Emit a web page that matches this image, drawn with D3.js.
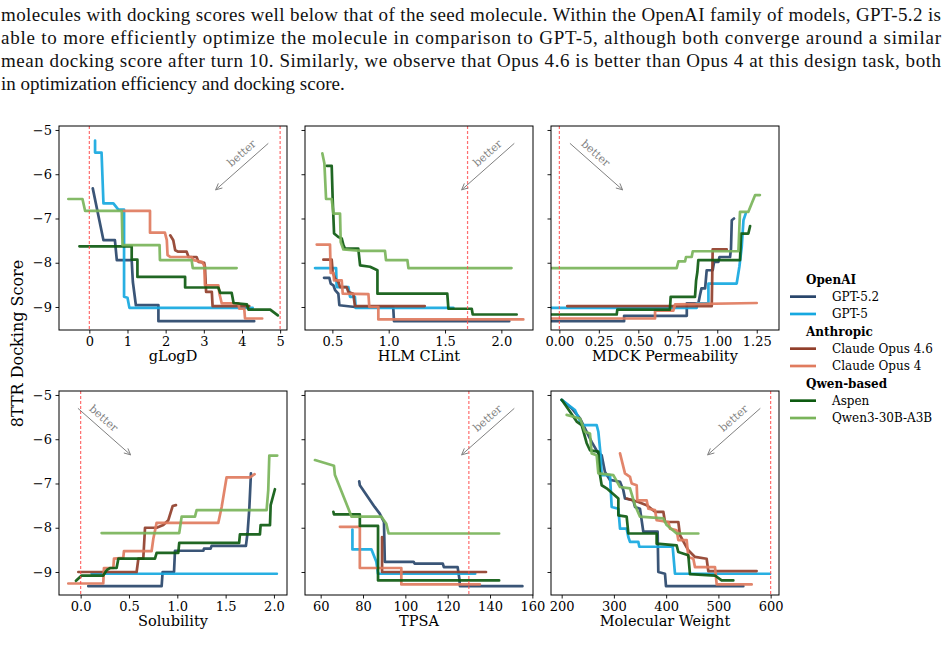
<!DOCTYPE html>
<html>
<head>
<meta charset="utf-8">
<script src="https://cdn.jsdelivr.net/npm/d3@7"></script>
<style>
  body { margin: 0; background: #fff; }
  svg { display: block; font-family: "DejaVu Serif", serif; }
</style>
</head>
<body>
<svg id="chart" width="949" height="646"></svg>
<script>
// ---- text above the figure ----
var paragraph = [
  "molecules with docking scores well below that of the seed molecule. Within the OpenAI family of models, GPT-5.2 is",
  "able to more efficiently optimize the molecule in comparison to GPT-5, although both converge around a similar",
  "mean docking score after turn 10. Similarly, we observe that Opus 4.6 is better than Opus 4 at this design task, both",
  "in optimization efficiency and docking score."
];

// ---- legend ----
var models = ["GPT-5.2", "GPT-5", "Claude Opus 4.6", "Claude Opus 4", "Aspen", "Qwen3-30B-A3B"];
var groupTitles = ["OpenAI", "Anthropic", "Qwen-based"];
var groupOf = [0, 0, 1, 1, 2, 2];
var colors = ["#29466b", "#16a8e0", "#913f2b", "#e07b5e", "#0d5a10", "#79b45a"];

// ---- axes ----
var yLabel = "8TTR Docking Score";
var yTicks = [-5, -6, -7, -8, -9];
var yLimits = [-9.52, -4.91];
var propNames = ["gLogD", "HLM CLint", "MDCK Permeability", "Solubility", "TPSA", "Molecular Weight"];
var xTicks = [[0, 1, 2, 3, 4, 5], [0.5, 1.0, 1.5, 2.0], [0, 0.25, 0.5, 0.75, 1.0, 1.25],
              [0, 0.5, 1.0, 1.5, 2.0], [60, 80, 100, 120, 140, 160], [200, 300, 400, 500, 600]];
var xTickFormats = ["d", ".1f", ".2f", ".1f", "d", "d"];
var xLimits = [[-0.795, 5.18], [0.257, 2.281], [-0.053, 1.391], [-0.224, 2.135], [52.6, 160.3], [179.6, 616]];
var thresholds = [[0, 5], [1.7], [0], [0], [130], [600]];
var betterDir = ["left", "left", "right", "right", "left", "left"];

// ---- series: [property, docking score] ----
var gLogD = {
  "GPT-5.2": [[0.09,-6.32],[0.37,-7.49],[0.67,-7.49],[0.72,-7.94],[1.11,-7.94],[1.14,-8.43],[1.22,-8.96],[1.81,-8.96],[1.81,-9.32],[4.32,-9.32]],
  "GPT-5": [[0.15,-5.24],[0.15,-5.51],[0.32,-5.51],[0.37,-6.66],[0.63,-6.66],[0.76,-6.80],[0.91,-6.80],[0.91,-8.77],[1.0,-8.79],[1.05,-9.02],[4.28,-9.02]],
  "Claude Opus 4.6": [[2.12,-7.38],[2.20,-7.49],[2.25,-7.72],[2.33,-7.75],[2.55,-7.75],[2.60,-7.87],[2.81,-7.87],[2.86,-7.98],[3.01,-8.0],[3.03,-8.09],[3.06,-8.66],[3.21,-8.66],[3.23,-8.98],[4.19,-8.98]],
  "Claude Opus 4": [[0.89,-6.83],[1.59,-6.83],[1.59,-7.32],[1.98,-7.32],[2.03,-7.49],[2.05,-7.83],[2.12,-7.87],[2.68,-7.87],[2.73,-7.94],[2.95,-7.98],[3.01,-8.06],[3.03,-8.51],[3.38,-8.51],[3.41,-8.70],[3.47,-8.92],[3.91,-8.92],[3.93,-9.04],[4.06,-9.04],[4.08,-9.26],[4.53,-9.26]],
  "Aspen": [[-0.26,-7.63],[1.11,-7.63],[1.11,-7.93],[1.26,-7.93],[1.26,-8.32],[2.51,-8.32],[2.51,-8.56],[3.38,-8.56],[3.43,-8.68],[3.73,-8.68],[3.78,-8.91],[4.13,-8.94],[4.17,-9.06],[4.74,-9.06],[4.94,-9.19]],
  "Qwen3-30B-A3B": [[-0.55,-6.56],[-0.18,-6.56],[-0.11,-6.83],[0.85,-6.83],[0.87,-7.60],[1.84,-7.60],[1.85,-7.94],[2.68,-7.94],[2.71,-8.12],[3.86,-8.12]]
};
var hlmClint = {
  "GPT-5.2": [[0.426,-8.34],[0.473,-8.34],[0.485,-8.47],[0.509,-8.51],[0.524,-8.62],[0.553,-8.70],[0.562,-8.96],[0.70,-9.0],[1.04,-9.0],[1.047,-9.32],[2.07,-9.32]],
  "GPT-5": [[0.346,-8.12],[0.533,-8.12],[0.538,-8.55],[0.642,-8.55],[0.657,-8.77],[0.70,-8.77],[0.707,-9.02],[1.574,-9.02]],
  "Claude Opus 4.6": [[0.42,-7.93],[0.494,-7.93],[0.503,-8.21],[0.524,-8.36],[0.553,-8.43],[0.568,-8.55],[0.627,-8.55],[0.642,-8.66],[0.686,-8.70],[0.70,-8.98],[1.32,-8.98]],
  "Claude Opus 4": [[0.361,-7.59],[0.479,-7.59],[0.485,-8.23],[0.509,-8.23],[0.515,-8.40],[0.583,-8.40],[0.592,-8.70],[0.82,-8.71],[0.828,-9.0],[0.908,-9.0],[0.908,-9.28],[2.195,-9.28]],
  "Aspen": [[0.45,-5.81],[0.494,-5.81],[0.503,-6.58],[0.515,-7.34],[0.553,-7.42],[0.583,-7.45],[0.598,-7.60],[0.612,-7.68],[0.73,-7.68],[0.746,-8.06],[0.834,-8.09],[0.90,-8.17],[0.90,-8.70],[1.52,-8.70],[1.53,-9.04],[1.737,-9.04],[1.746,-9.17],[2.136,-9.17]],
  "Qwen3-30B-A3B": [[0.411,-5.53],[0.429,-5.75],[0.444,-6.56],[0.494,-6.56],[0.509,-6.89],[0.568,-6.89],[0.574,-7.53],[0.598,-7.70],[0.76,-7.73],[0.967,-7.73],[0.976,-7.94],[1.166,-7.94],[1.175,-8.12],[2.09,-8.12]]
};
var mdck = {
  "GPT-5.2": [[-0.049,-9.32],[0.41,-9.32],[0.41,-9.20],[0.807,-9.20],[0.807,-8.92],[0.88,-8.92],[0.89,-8.74],[0.90,-8.58],[0.923,-8.58],[0.933,-8.17],[0.971,-8.17],[0.98,-7.98],[1.007,-7.98],[1.014,-7.87],[1.081,-7.87],[1.087,-7.68],[1.092,-7.04],[1.106,-7.0]],
  "GPT-5": [[-0.049,-9.02],[0.87,-9.02],[0.87,-8.92],[0.944,-8.92],[0.944,-8.47],[1.123,-8.47],[1.14,-8.09],[1.155,-7.64],[1.166,-7.04],[1.18,-6.89]],
  "Claude Opus 4.6": [[0.05,-8.98],[0.965,-8.98],[0.971,-7.70],[1.06,-7.70]],
  "Claude Opus 4": [[-0.049,-9.26],[0.606,-9.26],[0.606,-9.08],[0.722,-9.08],[0.733,-8.94],[1.25,-8.91]],
  "Aspen": [[-0.049,-9.17],[0.363,-9.17],[0.367,-9.06],[0.70,-9.06],[0.705,-8.77],[0.859,-8.77],[0.866,-8.40],[0.874,-8.21],[0.88,-7.94],[1.144,-7.94],[1.151,-7.34],[1.197,-7.34],[1.208,-7.17]],
  "Qwen3-30B-A3B": [[-0.049,-8.12],[0.743,-8.12],[0.754,-7.97],[0.796,-7.97],[0.802,-7.87],[0.838,-7.87],[0.845,-7.74],[1.134,-7.74],[1.144,-6.85],[1.197,-6.85],[1.218,-6.66],[1.24,-6.47],[1.27,-6.47]]
};
var solubility = {
  "GPT-5.2": [[0.079,-9.32],[0.838,-9.32],[0.848,-9.0],[0.966,-9.0],[0.976,-8.52],[1.27,-8.52],[1.276,-8.47],[1.345,-8.47],[1.355,-8.41],[1.71,-8.41],[1.728,-8.09],[1.745,-7.57],[1.762,-6.77]],
  "GPT-5": [[0.114,-9.04],[2.03,-9.04]],
  "Claude Opus 4.6": [[-0.024,-9.0],[0.579,-9.0],[0.597,-8.70],[0.648,-8.70],[0.666,-8.0],[0.786,-8.0],[0.855,-7.94],[0.907,-7.83],[0.952,-7.51],[0.986,-7.49]],
  "Claude Opus 4": [[-0.128,-9.26],[0.234,-9.26],[0.241,-8.91],[0.338,-8.91],[0.345,-8.70],[0.441,-8.68],[0.448,-8.53],[0.734,-8.53],[0.752,-8.25],[0.786,-7.89],[1.424,-7.89],[1.459,-7.53],[1.51,-6.86],[1.752,-6.86],[1.80,-6.79]],
  "Aspen": [[-0.048,-9.2],[0.01,-9.08],[0.234,-9.08],[0.269,-8.96],[0.303,-8.91],[0.372,-8.91],[0.39,-8.70],[0.769,-8.70],[0.786,-8.57],[1.01,-8.57],[1.02,-8.34],[1.64,-8.34],[1.648,-8.15],[1.855,-8.15],[1.862,-7.94],[1.959,-7.94],[1.966,-7.49],[2.01,-7.13]],
  "Qwen3-30B-A3B": [[0.217,-8.12],[1.02,-8.12],[1.045,-7.75],[1.183,-7.75],[1.20,-7.60],[1.924,-7.60],[1.941,-7.15],[1.952,-6.37],[2.034,-6.37]]
};
var tpsa = {
  "GPT-5.2": [[78.2,-6.95],[78.5,-7.04],[85.5,-7.53],[87.9,-7.68],[89.9,-7.87],[90.3,-8.77],[103.9,-8.77],[104.4,-8.81],[117.7,-8.81],[118.2,-8.89],[124.7,-8.89],[125.5,-9.15],[125.8,-9.32],[155.3,-9.32]],
  "GPT-5": [[75.0,-8.04],[75.0,-8.49],[84.0,-8.49],[86.3,-8.77],[87.1,-9.04],[133.0,-9.04]],
  "Claude Opus 4.6": [[89.0,-8.21],[89.0,-9.0],[138.1,-9.0]],
  "Claude Opus 4": [[69.1,-7.98],[78.5,-7.98],[78.5,-8.91],[98.1,-8.91],[98.1,-9.28],[135.2,-9.28]],
  "Aspen": [[66.0,-7.64],[66.3,-7.70],[78.5,-7.70],[78.5,-7.96],[87.1,-7.96],[87.1,-9.19],[144.3,-9.19]],
  "Qwen3-30B-A3B": [[57.3,-6.47],[66.3,-6.60],[66.7,-6.80],[74.6,-7.75],[88.7,-7.75],[91.0,-7.91],[92.1,-8.13],[144.3,-8.13]]
};
var molWeight = {
  "GPT-5.2": [[200,-5.11],[219.1,-5.30],[235.1,-5.53],[257.4,-6.06],[270.2,-6.32],[276.6,-6.36],[282.9,-6.74],[292.5,-6.92],[311.7,-6.96],[318.0,-7.15],[321.2,-7.34],[337.2,-7.38],[340.4,-7.53],[349.9,-7.57],[353.1,-7.83],[356.3,-8.09],[383.7,-8.09],[385.0,-9.0],[397.8,-9.04],[399.7,-9.32],[547.7,-9.32]],
  "GPT-5": [[200,-5.11],[225.5,-5.34],[238.3,-5.68],[267.0,-5.68],[270.2,-5.83],[274.6,-6.36],[276.6,-6.81],[292.5,-6.81],[295.7,-7.53],[308.5,-7.57],[311.7,-8.02],[324.4,-8.02],[327.6,-8.21],[330.8,-8.32],[346.7,-8.32],[348.7,-8.43],[412.5,-8.43],[416.9,-9.04],[598.8,-9.04]],
  "Claude Opus 4.6": [[324.4,-7.34],[346.7,-7.42],[362.7,-7.49],[378.6,-7.64],[394.6,-7.64],[397.8,-7.87],[423.3,-7.87],[426.5,-8.17],[442.4,-8.51],[455.2,-8.66],[477.5,-8.70],[480.7,-8.98],[573.2,-8.98]],
  "Claude Opus 4": [[311.7,-6.32],[321.2,-6.77],[330.8,-6.85],[334.0,-7.0],[343.6,-7.04],[344.8,-7.38],[362.7,-7.38],[365.9,-7.57],[378.6,-7.60],[381.8,-7.83],[404.2,-7.87],[407.4,-8.02],[420.1,-8.06],[423.3,-8.28],[439.3,-8.28],[442.4,-8.66],[452.0,-8.70],[455.2,-8.89],[493.5,-8.89],[496.7,-9.28],[563.7,-9.28]],
  "Aspen": [[200,-5.11],[216.0,-5.38],[228.7,-5.60],[238.3,-5.68],[247.9,-6.09],[254.2,-6.25],[270.2,-6.28],[273.4,-6.81],[276.6,-7.04],[286.1,-7.11],[308.5,-7.34],[308.5,-7.72],[324.4,-7.75],[327.6,-8.13],[381.8,-8.13],[381.8,-8.36],[420.1,-8.40],[423.3,-8.55],[442.4,-8.62],[445.6,-9.05],[493.5,-9.08],[506.2,-9.19],[528.6,-9.19]],
  "Qwen3-30B-A3B": [[209.6,-5.45],[235.1,-5.53],[244.7,-5.83],[254.2,-5.87],[257.4,-6.32],[267.0,-6.36],[270.2,-6.77],[298.9,-6.81],[311.7,-7.08],[330.8,-7.11],[340.4,-7.49],[349.9,-7.75],[394.6,-7.79],[401.0,-7.94],[420.1,-8.13],[461.6,-8.13]]
};
var panelData = [gLogD, hlmClint, mdck, solubility, tpsa, molWeight];

// ---- layout ----
var colLeft = [59, 305, 551], rowTop = [126, 391];
var pw = 228, ph = 204;

var svg = d3.select("#chart");

// paragraph
svg.append("g").selectAll("text")
  .data(paragraph)
  .join("text")
    .attr("x", 1)
    .attr("y", function(d, i) { return 20.5 + i * 23; })
    .attr("textLength", function(d, i) { return i < 3 ? 940 : null; })
    .attr("lengthAdjust", "spacing")
    .style("font-family", "'Liberation Serif', serif")
    .style("font-size", "19px")
    .attr("fill", "#111")
    .text(function(d) { return d; });

var defs = svg.append("defs");

panelData.forEach(function(data, p) {
  var left = colLeft[p % 3], top = rowTop[Math.floor(p / 3)];
  var g = svg.append("g").attr("transform", "translate(" + left + "," + top + ")");

  var x = d3.scaleLinear().domain(xLimits[p]).range([0, pw]);
  var y = d3.scaleLinear().domain(yLimits).range([ph, 0]);

  defs.append("clipPath").attr("id", "clip" + p)
    .append("rect").attr("width", pw).attr("height", ph);

  // x axis
  var xa = g.append("g")
    .attr("transform", "translate(0," + ph + ")")
    .call(d3.axisBottom(x).tickValues(xTicks[p]).tickFormat(d3.format(xTickFormats[p])).tickSize(3.5).tickPadding(3.5));
  // y axis (labels only on first column)
  var ya = g.append("g")
    .call(d3.axisLeft(y).tickValues(yTicks).tickFormat(p % 3 === 0 ? d3.format("d") : "").tickSize(3.5).tickPadding(3.5));
  [xa, ya].forEach(function(a) {
    a.select(".domain").remove();
    a.selectAll("text").style("font-family", "'DejaVu Serif', serif").style("font-size", "13px").attr("fill", "#000");
    a.selectAll("line").attr("stroke", "#000").attr("stroke-width", 0.9);
  });

  // series
  var line = d3.line().x(function(d) { return x(d[0]); }).y(function(d) { return y(d[1]); });
  g.append("g").attr("clip-path", "url(#clip" + p + ")")
    .selectAll("path")
    .data(models)
    .join("path")
      .attr("d", function(m) { return line(data[m]); })
      .attr("fill", "none")
      .attr("stroke", function(m, i) { return colors[i]; })
      .attr("stroke-width", 2.7)
      .attr("stroke-linejoin", "round")
      .attr("stroke-linecap", "round")
      .attr("opacity", 0.92);

  // threshold lines (drawn over the series)
  g.append("g").selectAll("line")
    .data(thresholds[p])
    .join("line")
      .attr("x1", function(d) { return x(d); })
      .attr("x2", function(d) { return x(d); })
      .attr("y1", 0).attr("y2", ph)
      .attr("stroke", "#ff4a4a")
      .attr("stroke-width", 1.2)
      .attr("stroke-dasharray", "3,2")
      .attr("opacity", 0.8);

  // "better" arrow
  var dir = betterDir[p] === "left" ? -1 : 1;
  var x0 = dir < 0 ? 0.918 * pw : 0.083 * pw, y0 = 0.085 * ph;
  var x1 = dir < 0 ? 0.687 * pw : 0.314 * pw, y1 = 0.313 * ph;
  var ang = Math.atan2(y1 - y0, x1 - x0);
  var head = 7;
  g.append("path")
    .attr("d", "M" + x0 + "," + y0 + "L" + x1 + "," + y1 +
      "M" + (x1 - head * Math.cos(ang - 0.45)) + "," + (y1 - head * Math.sin(ang - 0.45)) +
      "L" + x1 + "," + y1 +
      "L" + (x1 - head * Math.cos(ang + 0.45)) + "," + (y1 - head * Math.sin(ang + 0.45)))
    .attr("fill", "none")
    .attr("stroke", "#808080")
    .attr("stroke-width", 1);
  var rot = dir < 0 ? -41.6 : 41.6;
  g.append("text")
    .attr("transform", "translate(" + ((x0 + x1) / 2 - 0.5) + "," + ((y0 + y1) / 2 - 13.5) + ")rotate(" + rot + ")")
    .attr("text-anchor", "middle")
    .attr("dy", "0.35em")
    .attr("fill", "#808080")
    .style("font-size", "11px")
    .text("better");

  // frame
  g.append("rect")
    .attr("width", pw).attr("height", ph)
    .attr("fill", "none")
    .attr("stroke", "#000")
    .attr("stroke-width", 1);

  // axis label
  g.append("text")
    .attr("x", pw / 2).attr("y", ph + 31)
    .attr("text-anchor", "middle")
    .style("font-size", "14.5px")
    .text(propNames[p]);
});

// shared y label
svg.append("text")
  .attr("transform", "translate(23,343.5)rotate(-90)")
  .attr("text-anchor", "middle")
  .style("font-size", "16px")
  .text(yLabel);

// legend
var rowsL = [];
groupTitles.forEach(function(t, gi) {
  rowsL.push({ title: t });
  models.forEach(function(m, i) { if (groupOf[i] === gi) rowsL.push({ model: m, color: colors[i] }); });
});
var leg = svg.append("g").attr("transform", "translate(790,279.3)");
var rowG = leg.selectAll("g")
  .data(rowsL)
  .join("g")
    .attr("transform", function(d, i) { return "translate(0," + (i * 17.34) + ")"; });
rowG.filter(function(d) { return d.title; })
  .append("text")
    .attr("x", 16).attr("dy", "0.35em")
    .style("font-size", "12px")
    .style("font-weight", "bold")
    .text(function(d) { return d.title; });
rowG.filter(function(d) { return d.model; })
  .append("line")
    .attr("x1", 0).attr("x2", 26)
    .attr("stroke", function(d) { return d.color; })
    .attr("stroke-width", 2.7);
rowG.filter(function(d) { return d.model; })
  .append("text")
    .attr("x", 42).attr("dy", "0.35em")
    .style("font-size", "12px")
    .text(function(d) { return d.model; });
</script>
</body>
</html>
